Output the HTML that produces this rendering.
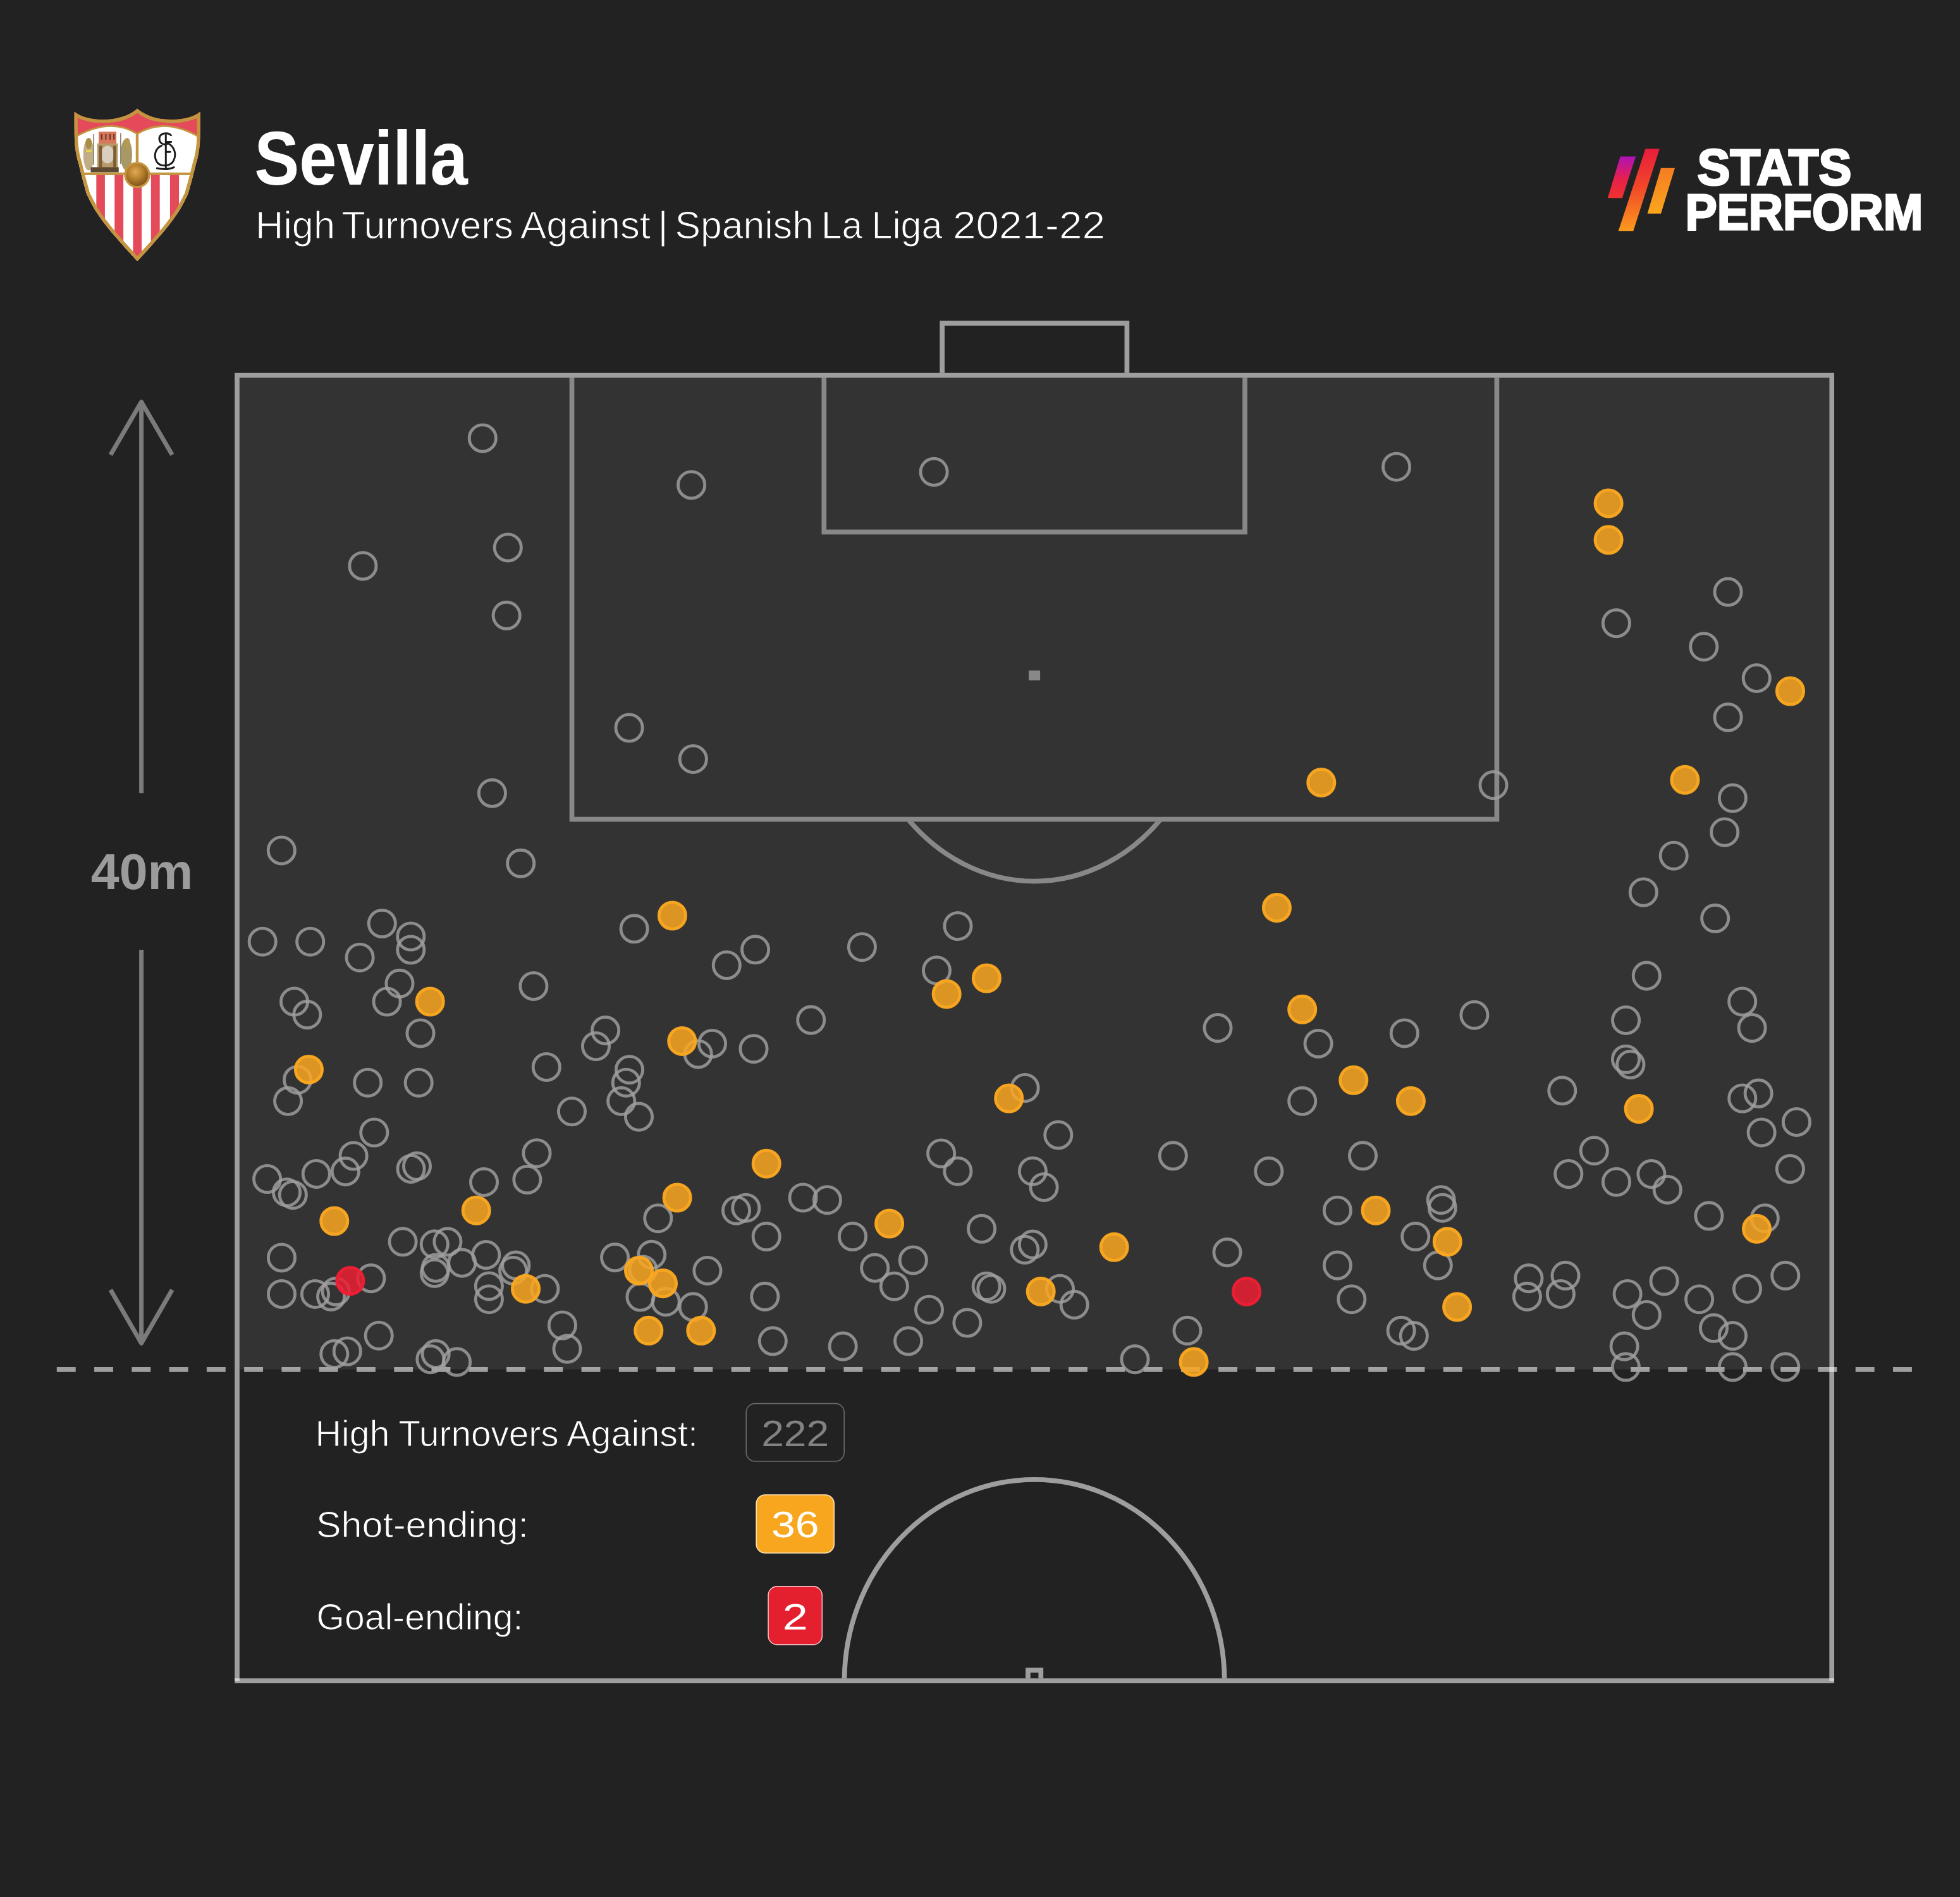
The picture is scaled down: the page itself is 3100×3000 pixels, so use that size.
<!DOCTYPE html>
<html lang="en"><head><meta charset="utf-8"><title>Sevilla - High Turnovers Against</title>
<style>html,body{margin:0;padding:0;background:#222222;}body{width:3100px;height:3000px;overflow:hidden;}svg{display:block;}text{font-family:"Liberation Sans",sans-serif;}</style></head><body>
<svg width="3100" height="3000" viewBox="0 0 3100 3000">
<rect width="3100" height="3000" fill="#222222"/>
<g fill="none" stroke="rgba(255,255,255,0.56)" stroke-width="7.7" stroke-linecap="butt" stroke-linejoin="miter">
<path d="M375.0 2658.2 L375.0 593.7 L2897.2 593.7 L2897.2 2658.2"/>
<path d="M371.15 2658.2 L2901.0499999999997 2658.2"/>
<path d="M1490.2 589.85 L1490.2 511.2 L1782.4 511.2 L1782.4 589.85"/>
<path d="M904.5 597.5500000000001 L904.5 1295.6 L2367.4 1295.6 L2367.4 597.5500000000001"/>
<path d="M1303.3 597.5500000000001 L1303.3 841.4 L1969.0 841.4 L1969.0 597.5500000000001"/>
<clipPath id="cpD"><rect x="1300" y="1299.4499999999998" width="700" height="200"/></clipPath>
<path clip-path="url(#cpD)" d="M1433.1 1291.8 A279.4 325.4 0 0 0 1839.1 1291.8"/>
<clipPath id="cpC"><rect x="1200" y="2300" width="900" height="354.3499999999999"/></clipPath>
<path clip-path="url(#cpC)" d="M1335.5 2662.2 L1335.5 2658.2 A300.6 318.5 0 0 1 1936.6999999999998 2658.2 L1936.6999999999998 2662.2"/>
<path d="M1625.8999999999999 2654.35 L1625.8999999999999 2641.4 L1646.3 2641.4 L1646.3 2654.35"/>
</g>
<rect x="1627.1" y="1060.4" width="18" height="15.6" fill="rgba(255,255,255,0.56)"/>
<rect x="378.85" y="597.5500000000001" width="2514.5" height="1568.05" fill="rgb(88,88,88)" fill-opacity="0.317"/>
<path d="M89.8 2165.9 L3024.6 2165.9" stroke="rgba(255,255,255,0.56)" stroke-width="7.9" stroke-dasharray="29.9 29.37" fill="none"/>
<g fill="none" stroke="#7b7b7b" stroke-width="7" stroke-linecap="butt" stroke-linejoin="miter">
<path d="M223.6 1254.3 L223.6 635.6"/>
<path d="M174.9 719.2 L223.6 635.6 L272.3 719.2" stroke-linejoin="round"/>
<path d="M223.6 1502 L223.6 2124.2"/>
<path d="M174.9 2039.8 L223.6 2124.2 L272.3 2039.8" stroke-linejoin="round"/>
</g>
<text id="t40" x="143.8" y="1406.3" font-size="80" font-weight="700" fill="#9b9b9b" textLength="161.5" lengthAdjust="spacingAndGlyphs">40m</text>
<g fill="none" stroke="rgba(160,160,160,0.82)" stroke-width="4.85">
<circle cx="763.3" cy="692.9" r="21.1"/>
<circle cx="803.3" cy="865.9" r="21.1"/>
<circle cx="573.9" cy="894.9" r="21.1"/>
<circle cx="801.2" cy="973.3" r="21.1"/>
<circle cx="1093.6" cy="766.9" r="21.1"/>
<circle cx="1477.1" cy="746.3" r="21.1"/>
<circle cx="2208.6" cy="738.2" r="21.1"/>
<circle cx="2556.4" cy="985.6" r="21.1"/>
<circle cx="2694.8" cy="1022.7" r="21.1"/>
<circle cx="2733.1" cy="936.1" r="21.1"/>
<circle cx="2778.3" cy="1072.4" r="21.1"/>
<circle cx="2733.1" cy="1134.4" r="21.1"/>
<circle cx="2740.4" cy="1262.2" r="21.1"/>
<circle cx="2727.7" cy="1316.0" r="21.1"/>
<circle cx="2647.2" cy="1353.2" r="21.1"/>
<circle cx="2599.3" cy="1411.0" r="21.1"/>
<circle cx="2712.7" cy="1452.3" r="21.1"/>
<circle cx="2604.3" cy="1543.1" r="21.1"/>
<circle cx="2755.7" cy="1584.0" r="21.1"/>
<circle cx="2571.6" cy="1613.4" r="21.1"/>
<circle cx="995.1" cy="1151.0" r="21.1"/>
<circle cx="1096.3" cy="1200.4" r="21.1"/>
<circle cx="778.4" cy="1254.3" r="21.1"/>
<circle cx="445.3" cy="1344.9" r="21.1"/>
<circle cx="823.7" cy="1365.3" r="21.1"/>
<circle cx="1003.1" cy="1468.8" r="21.1"/>
<circle cx="604.3" cy="1460.5" r="21.1"/>
<circle cx="649.8" cy="1481.0" r="21.1"/>
<circle cx="649.8" cy="1502.0" r="21.1"/>
<circle cx="415.2" cy="1489.2" r="21.1"/>
<circle cx="490.7" cy="1489.2" r="21.1"/>
<circle cx="569.1" cy="1514.2" r="21.1"/>
<circle cx="632.0" cy="1555.3" r="21.1"/>
<circle cx="843.9" cy="1559.4" r="21.1"/>
<circle cx="612.1" cy="1584.0" r="21.1"/>
<circle cx="465.5" cy="1584.0" r="21.1"/>
<circle cx="485.8" cy="1604.6" r="21.1"/>
<circle cx="1515.0" cy="1464.5" r="21.1"/>
<circle cx="1363.4" cy="1497.7" r="21.1"/>
<circle cx="1194.6" cy="1501.8" r="21.1"/>
<circle cx="1149.3" cy="1526.4" r="21.1"/>
<circle cx="1481.5" cy="1534.7" r="21.1"/>
<circle cx="1282.7" cy="1613.1" r="21.1"/>
<circle cx="2362.0" cy="1241.6" r="21.1"/>
<circle cx="2331.9" cy="1605.2" r="21.1"/>
<circle cx="665.0" cy="1633.9" r="21.1"/>
<circle cx="957.6" cy="1629.6" r="21.1"/>
<circle cx="942.5" cy="1654.5" r="21.1"/>
<circle cx="470.6" cy="1707.7" r="21.1"/>
<circle cx="455.6" cy="1741.3" r="21.1"/>
<circle cx="581.7" cy="1712.2" r="21.1"/>
<circle cx="662.2" cy="1712.2" r="21.1"/>
<circle cx="864.3" cy="1687.4" r="21.1"/>
<circle cx="904.5" cy="1757.7" r="21.1"/>
<circle cx="591.8" cy="1791.0" r="21.1"/>
<circle cx="559.1" cy="1828.0" r="21.1"/>
<circle cx="849.0" cy="1823.7" r="21.1"/>
<circle cx="659.5" cy="1844.2" r="21.1"/>
<circle cx="650.0" cy="1848.4" r="21.1"/>
<circle cx="546.4" cy="1852.6" r="21.1"/>
<circle cx="500.3" cy="1856.4" r="21.1"/>
<circle cx="422.6" cy="1864.5" r="21.1"/>
<circle cx="765.5" cy="1869.4" r="21.1"/>
<circle cx="833.9" cy="1865.5" r="21.1"/>
<circle cx="453.5" cy="1885.7" r="21.1"/>
<circle cx="463.3" cy="1889.7" r="21.1"/>
<circle cx="637.1" cy="1963.8" r="21.1"/>
<circle cx="687.3" cy="1967.8" r="21.1"/>
<circle cx="707.9" cy="1963.8" r="21.1"/>
<circle cx="768.8" cy="1984.6" r="21.1"/>
<circle cx="445.5" cy="1988.9" r="21.1"/>
<circle cx="730.8" cy="1997.1" r="21.1"/>
<circle cx="689.2" cy="2005.1" r="21.1"/>
<circle cx="687.3" cy="2013.4" r="21.1"/>
<circle cx="815.9" cy="2001.1" r="21.1"/>
<circle cx="811.6" cy="2009.4" r="21.1"/>
<circle cx="586.9" cy="2021.6" r="21.1"/>
<circle cx="773.4" cy="2033.9" r="21.1"/>
<circle cx="861.8" cy="2038.2" r="21.1"/>
<circle cx="445.5" cy="2046.4" r="21.1"/>
<circle cx="498.5" cy="2046.4" r="21.1"/>
<circle cx="531.2" cy="2042.4" r="21.1"/>
<circle cx="523.6" cy="2050.4" r="21.1"/>
<circle cx="773.4" cy="2054.7" r="21.1"/>
<circle cx="889.4" cy="2096.0" r="21.1"/>
<circle cx="599.2" cy="2112.2" r="21.1"/>
<circle cx="897.0" cy="2133.1" r="21.1"/>
<circle cx="528.8" cy="2141.3" r="21.1"/>
<circle cx="549.3" cy="2137.0" r="21.1"/>
<circle cx="689.2" cy="2141.3" r="21.1"/>
<circle cx="680.9" cy="2149.6" r="21.1"/>
<circle cx="722.6" cy="2153.9" r="21.1"/>
<circle cx="1126.5" cy="1650.4" r="21.1"/>
<circle cx="1104.2" cy="1666.9" r="21.1"/>
<circle cx="1192.0" cy="1658.7" r="21.1"/>
<circle cx="995.5" cy="1691.7" r="21.1"/>
<circle cx="990.3" cy="1712.2" r="21.1"/>
<circle cx="982.7" cy="1741.3" r="21.1"/>
<circle cx="1010.5" cy="1766.1" r="21.1"/>
<circle cx="1488.6" cy="1824.0" r="21.1"/>
<circle cx="1514.9" cy="1852.2" r="21.1"/>
<circle cx="1040.8" cy="1926.7" r="21.1"/>
<circle cx="1164.5" cy="1914.2" r="21.1"/>
<circle cx="1179.8" cy="1910.2" r="21.1"/>
<circle cx="1270.1" cy="1894.0" r="21.1"/>
<circle cx="1308.4" cy="1897.7" r="21.1"/>
<circle cx="1212.2" cy="1955.5" r="21.1"/>
<circle cx="1348.5" cy="1955.5" r="21.1"/>
<circle cx="972.6" cy="1988.6" r="21.1"/>
<circle cx="1030.7" cy="1984.3" r="21.1"/>
<circle cx="1444.3" cy="1992.9" r="21.1"/>
<circle cx="1017.0" cy="2008.0" r="21.1"/>
<circle cx="1118.9" cy="2009.4" r="21.1"/>
<circle cx="1383.7" cy="2005.1" r="21.1"/>
<circle cx="1414.3" cy="2034.2" r="21.1"/>
<circle cx="1013.0" cy="2051.0" r="21.1"/>
<circle cx="1053.1" cy="2058.7" r="21.1"/>
<circle cx="1096.2" cy="2066.9" r="21.1"/>
<circle cx="1209.8" cy="2050.4" r="21.1"/>
<circle cx="1469.5" cy="2071.2" r="21.1"/>
<circle cx="1222.3" cy="2120.8" r="21.1"/>
<circle cx="1333.2" cy="2129.1" r="21.1"/>
<circle cx="1436.6" cy="2120.8" r="21.1"/>
<circle cx="1926.0" cy="1625.6" r="21.1"/>
<circle cx="1621.1" cy="1720.5" r="21.1"/>
<circle cx="1673.8" cy="1794.9" r="21.1"/>
<circle cx="1633.4" cy="1852.2" r="21.1"/>
<circle cx="1855.3" cy="1827.8" r="21.1"/>
<circle cx="2006.8" cy="1852.3" r="21.1"/>
<circle cx="2059.7" cy="1741.3" r="21.1"/>
<circle cx="1651.1" cy="1877.4" r="21.1"/>
<circle cx="1552.6" cy="1943.3" r="21.1"/>
<circle cx="1633.4" cy="1968.1" r="21.1"/>
<circle cx="1620.8" cy="1976.3" r="21.1"/>
<circle cx="1941.0" cy="1980.6" r="21.1"/>
<circle cx="1560.2" cy="2034.2" r="21.1"/>
<circle cx="1567.9" cy="2038.2" r="21.1"/>
<circle cx="1676.5" cy="2038.2" r="21.1"/>
<circle cx="1699.2" cy="2063.3" r="21.1"/>
<circle cx="1529.9" cy="2092.0" r="21.1"/>
<circle cx="1878.0" cy="2104.3" r="21.1"/>
<circle cx="1795.0" cy="2149.6" r="21.1"/>
<circle cx="2221.3" cy="1633.9" r="21.1"/>
<circle cx="2085.1" cy="1650.4" r="21.1"/>
<circle cx="2571.5" cy="1675.2" r="21.1"/>
<circle cx="2578.9" cy="1683.5" r="21.1"/>
<circle cx="2470.8" cy="1724.8" r="21.1"/>
<circle cx="2521.3" cy="1819.7" r="21.1"/>
<circle cx="2155.5" cy="1827.8" r="21.1"/>
<circle cx="2480.8" cy="1856.6" r="21.1"/>
<circle cx="2556.5" cy="1869.2" r="21.1"/>
<circle cx="2611.9" cy="1856.6" r="21.1"/>
<circle cx="2115.4" cy="1914.2" r="21.1"/>
<circle cx="2279.2" cy="1897.7" r="21.1"/>
<circle cx="2281.3" cy="1910.2" r="21.1"/>
<circle cx="2238.8" cy="1955.5" r="21.1"/>
<circle cx="2115.4" cy="2001.1" r="21.1"/>
<circle cx="2274.3" cy="2001.1" r="21.1"/>
<circle cx="2417.9" cy="2021.6" r="21.1"/>
<circle cx="2476.0" cy="2017.3" r="21.1"/>
<circle cx="2415.4" cy="2050.4" r="21.1"/>
<circle cx="2468.4" cy="2046.4" r="21.1"/>
<circle cx="2574.1" cy="2046.4" r="21.1"/>
<circle cx="2604.3" cy="2079.5" r="21.1"/>
<circle cx="2137.8" cy="2054.7" r="21.1"/>
<circle cx="2216.1" cy="2104.3" r="21.1"/>
<circle cx="2236.3" cy="2112.6" r="21.1"/>
<circle cx="2569.1" cy="2129.1" r="21.1"/>
<circle cx="2571.4" cy="2161.8" r="21.1"/>
<circle cx="2771.1" cy="1625.6" r="21.1"/>
<circle cx="2781.2" cy="1729.1" r="21.1"/>
<circle cx="2755.8" cy="1737.0" r="21.1"/>
<circle cx="2841.5" cy="1774.4" r="21.1"/>
<circle cx="2786.1" cy="1790.9" r="21.1"/>
<circle cx="2831.4" cy="1848.6" r="21.1"/>
<circle cx="2637.3" cy="1881.4" r="21.1"/>
<circle cx="2702.9" cy="1922.8" r="21.1"/>
<circle cx="2791.3" cy="1926.7" r="21.1"/>
<circle cx="2632.1" cy="2025.9" r="21.1"/>
<circle cx="2823.8" cy="2017.3" r="21.1"/>
<circle cx="2763.5" cy="2038.2" r="21.1"/>
<circle cx="2687.6" cy="2054.7" r="21.1"/>
<circle cx="2710.5" cy="2100.3" r="21.1"/>
<circle cx="2740.5" cy="2112.6" r="21.1"/>
<circle cx="2740.5" cy="2161.8" r="21.1"/>
<circle cx="2823.8" cy="2161.8" r="21.1"/>
</g>
<g fill="rgba(250,167,32,0.85)" stroke="rgba(250,167,32,0.97)" stroke-width="4.85">
<circle cx="2544.1" cy="795.9" r="21.1"/>
<circle cx="2544.1" cy="853.8" r="21.1"/>
<circle cx="2831.5" cy="1093.0" r="21.1"/>
<circle cx="2664.9" cy="1233.3" r="21.1"/>
<circle cx="2089.8" cy="1237.6" r="21.1"/>
<circle cx="1063.4" cy="1448.0" r="21.1"/>
<circle cx="680.2" cy="1584.0" r="21.1"/>
<circle cx="1560.4" cy="1547.0" r="21.1"/>
<circle cx="1497.2" cy="1571.9" r="21.1"/>
<circle cx="2019.4" cy="1435.6" r="21.1"/>
<circle cx="2059.7" cy="1596.3" r="21.1"/>
<circle cx="488.4" cy="1691.4" r="21.1"/>
<circle cx="1078.8" cy="1646.4" r="21.1"/>
<circle cx="1212.2" cy="1840.2" r="21.1"/>
<circle cx="753.2" cy="1914.2" r="21.1"/>
<circle cx="528.8" cy="1931.0" r="21.1"/>
<circle cx="831.5" cy="2038.2" r="21.1"/>
<circle cx="1071.1" cy="1894.0" r="21.1"/>
<circle cx="1406.6" cy="1935.0" r="21.1"/>
<circle cx="1010.5" cy="2009.4" r="21.1"/>
<circle cx="1048.5" cy="2029.6" r="21.1"/>
<circle cx="1025.8" cy="2104.3" r="21.1"/>
<circle cx="1108.8" cy="2104.3" r="21.1"/>
<circle cx="1595.7" cy="1737.0" r="21.1"/>
<circle cx="1762.2" cy="1972.3" r="21.1"/>
<circle cx="1646.2" cy="2042.4" r="21.1"/>
<circle cx="1888.1" cy="2153.9" r="21.1"/>
<circle cx="2140.8" cy="1708.3" r="21.1"/>
<circle cx="2231.4" cy="1741.3" r="21.1"/>
<circle cx="2592.1" cy="1753.6" r="21.1"/>
<circle cx="2176.0" cy="1914.2" r="21.1"/>
<circle cx="2289.3" cy="1963.8" r="21.1"/>
<circle cx="2304.6" cy="2066.9" r="21.1"/>
<circle cx="2778.5" cy="1943.3" r="21.1"/>
</g>
<g fill="rgba(235,30,50,0.85)" stroke="rgba(238,30,52,0.97)" stroke-width="4.85">
<circle cx="553.9" cy="2025.6" r="21.1"/>
<circle cx="1971.6" cy="2042.4" r="21.1"/>
</g>
<g font-size="58" fill="#ffffff" stroke="#222222" stroke-width="1.0" lengthAdjust="spacingAndGlyphs">
<text id="lga0" x="498.5" y="2286.6" textLength="118.0" lengthAdjust="spacingAndGlyphs">High</text>
<text id="lga1" x="630.5" y="2286.6" textLength="253.0" lengthAdjust="spacingAndGlyphs">Turnovers</text>
<text id="lga2" x="896" y="2286.6" textLength="208.0" lengthAdjust="spacingAndGlyphs">Against:</text>
<text id="lgb0" x="500" y="2431" textLength="336.0" lengthAdjust="spacingAndGlyphs">Shot-ending:</text>
<text id="lgc0" x="500.5" y="2576.5" textLength="327.0" lengthAdjust="spacingAndGlyphs">Goal-ending:</text>
</g>
<rect x="1180.2" y="2219.6" width="155" height="91.4" rx="14" fill="none" stroke="#6a6a6a" stroke-width="1.6"/>
<rect x="1196.2" y="2364" width="123" height="92" rx="14" fill="#f9a61f" stroke="#fde2b4" stroke-width="1.6"/>
<rect x="1215.1" y="2508.9" width="85.2" height="92" rx="14" fill="#e4202f" stroke="#f6b9bf" stroke-width="1.6"/>
<g font-size="58" text-anchor="middle">
<text id="n1" x="1257.7" y="2286.6" fill="#828282" textLength="107" lengthAdjust="spacingAndGlyphs">222</text>
<text id="n2" x="1257.7" y="2431" fill="#ffffff" textLength="75.5" lengthAdjust="spacingAndGlyphs">36</text>
<text id="n3" x="1257.7" y="2576.5" fill="#ffffff" textLength="40" lengthAdjust="spacingAndGlyphs">2</text>
</g>
<text id="ttl" x="402.2" y="292" font-size="120" font-weight="700" fill="#ffffff" textLength="337.5" lengthAdjust="spacingAndGlyphs">Sevilla</text>
<g font-size="62" fill="#ffffff" stroke="#222222" stroke-width="1.1">
<text id="sub0" x="404" y="377" textLength="126.0" lengthAdjust="spacingAndGlyphs">High</text>
<text id="sub1" x="540.5" y="377" textLength="271.5" lengthAdjust="spacingAndGlyphs">Turnovers</text>
<text id="sub2" x="823" y="377" textLength="206.0" lengthAdjust="spacingAndGlyphs">Against</text>
<text id="sub3" x="1040.5" y="377" textLength="16.1" lengthAdjust="spacingAndGlyphs">|</text>
<text id="sub4" x="1067.5" y="377" textLength="219.5" lengthAdjust="spacingAndGlyphs">Spanish</text>
<text id="sub5" x="1299" y="377" textLength="65.0" lengthAdjust="spacingAndGlyphs">La</text>
<text id="sub6" x="1378.5" y="377" textLength="112.0" lengthAdjust="spacingAndGlyphs">Liga</text>
<text id="sub7" x="1507" y="377" textLength="241.0" lengthAdjust="spacingAndGlyphs">2021-22</text>
</g>
<defs>
<linearGradient id="g1" x1="0" y1="0" x2="0" y2="1"><stop offset="0" stop-color="#b012b8"/><stop offset="0.55" stop-color="#e8204a"/><stop offset="1" stop-color="#f0312f"/></linearGradient>
<linearGradient id="g2" x1="0" y1="0" x2="0" y2="1"><stop offset="0" stop-color="#e81c3c"/><stop offset="0.45" stop-color="#f2452a"/><stop offset="1" stop-color="#fb9a1c"/></linearGradient>
<linearGradient id="g3" x1="0" y1="0" x2="0" y2="1"><stop offset="0" stop-color="#f57d22"/><stop offset="1" stop-color="#fba61c"/></linearGradient>
</defs>
<polygon points="2562.7,247.4 2587.2,247.4 2565.8,313.2 2542.8,313.2" fill="url(#g1)"/>
<polygon points="2602.5,235.2 2624.9,235.2 2583.3,365.3 2559.7,365.3" fill="url(#g2)"/>
<polygon points="2627,265.8 2649,265.8 2627,337.7 2605.6,337.7" fill="url(#g3)"/>
<text id="sp1" x="2684.5" y="292.2" font-size="79.5" font-weight="700" fill="#ffffff" stroke="#ffffff" stroke-width="3" stroke-linejoin="miter" textLength="244" lengthAdjust="spacingAndGlyphs">STATS</text>
<text id="sp2" x="2665.5" y="363.2" font-size="80.5" font-weight="700" fill="#ffffff" stroke="#ffffff" stroke-width="3" stroke-linejoin="miter" textLength="376" lengthAdjust="spacingAndGlyphs">PERFORM</text>
<g>
<clipPath id="csh"><path d="M117.6,176.5 C135,192.5 190,196 217.2,171.8 C244.4,196 299.4,192.5 316.8,176.5 C316.8,181.2 316.9,196.4 316.8,205.0 C316.7,213.6 316.4,222.2 316.0,228.0 C315.6,233.8 315.1,236.3 314.5,240.0 C313.9,243.7 313.3,246.7 312.5,250.0 C311.7,253.3 311.0,254.9 309.7,260.0 C308.4,265.1 306.3,273.9 304.5,280.8 C302.7,287.7 300.3,296.3 298.9,301.2 C297.4,306.1 298.6,304.4 295.8,310.0 C293.0,315.6 287.5,326.7 282.2,335.0 C276.9,343.3 270.1,352.1 263.9,360.0 C257.7,367.9 250.6,375.7 244.8,382.4 C239.0,389.1 233.6,394.9 229.0,400.0 C224.4,405.1 219.2,410.9 217.2,413.1 C215.2,410.9 210.0,405.1 205.4,400.0 C200.8,394.9 195.4,389.1 189.6,382.4 C183.8,375.7 176.7,367.9 170.5,360.0 C164.3,352.1 157.5,343.3 152.2,335.0 C146.9,326.7 141.4,315.6 138.6,310.0 C135.8,304.4 136.9,306.1 135.5,301.2 C134.1,296.3 131.7,287.7 129.9,280.8 C128.1,273.9 126.0,265.1 124.7,260.0 C123.4,254.9 122.7,253.3 121.9,250.0 C121.1,246.7 120.5,243.7 119.9,240.0 C119.3,236.3 118.8,233.8 118.4,228.0 C118.0,222.2 117.7,213.6 117.6,205.0 C117.5,196.4 117.6,181.2 117.6,176.5 Z"/></clipPath>
<g clip-path="url(#csh)">
<g transform="translate(80,150) scale(0.14760)">
<defs>
<radialGradient id="ball" cx="0.42" cy="0.36" r="0.7"><stop offset="0" stop-color="#e0ab55"/><stop offset="0.45" stop-color="#b8822f"/><stop offset="1" stop-color="#7a4d17"/></radialGradient>
</defs>
<g>
<rect x="200" y="100" width="1500" height="1750" fill="#e44a5a"/>
<rect x="200" y="845" width="1500" height="1000" fill="#ffffff"/>
<rect x="490" y="845" width="92" height="1000" fill="#e44a5a"/>
<rect x="686" y="845" width="94" height="1000" fill="#e44a5a"/>
<rect x="884" y="845" width="92" height="1000" fill="#e44a5a"/>
<rect x="1076" y="845" width="94" height="1000" fill="#e44a5a"/>
<rect x="1280" y="845" width="96" height="1000" fill="#e44a5a"/>
<path d="M262,452 Q636,236 928,417 L928,845 L300,845 Z" fill="#ffffff" stroke="#c4953f" stroke-width="20"/>
<path d="M928,417 Q1220,236 1594,452 L1560,845 L928,845 Z" fill="#ffffff" stroke="#c4953f" stroke-width="20"/>
<g>
<rect x="515" y="395" width="190" height="135" fill="#d9765a"/>
<rect x="540" y="420" width="14" height="60" fill="#5b3a28"/>
<rect x="585" y="420" width="14" height="60" fill="#5b3a28"/>
<rect x="630" y="420" width="14" height="60" fill="#5b3a28"/>
<rect x="672" y="420" width="14" height="60" fill="#5b3a28"/>
<rect x="500" y="520" width="220" height="270" fill="#b79a68"/>
<ellipse cx="610" cy="640" rx="70" ry="95" fill="#d8cfc0"/>
<rect x="520" y="545" width="30" height="230" fill="#7c5a34"/>
<rect x="672" y="545" width="30" height="230" fill="#7c5a34"/>
<ellipse cx="408" cy="640" rx="58" ry="170" fill="#c2ae86"/>
<ellipse cx="408" cy="520" rx="34" ry="60" fill="#a98d45"/>
<rect x="380" y="590" width="60" height="22" fill="#e8d64a"/>
<ellipse cx="812" cy="640" rx="62" ry="170" fill="#a89868"/>
<ellipse cx="820" cy="520" rx="34" ry="60" fill="#b39a55"/>
<rect x="455" y="420" width="12" height="330" fill="#8a8a6a"/>
<rect x="745" y="410" width="12" height="330" fill="#8a8a6a"/>
<rect x="430" y="775" width="300" height="55" fill="#5e4a33"/>
</g>
<rect x="200" y="832" width="1500" height="28" fill="#c4953f"/>
<rect x="913" y="410" width="30" height="450" fill="#c4953f"/>
</g>
<g fill="none" stroke="#1c1c1c" stroke-width="20" stroke-linecap="round">
<path d="M1290,432 C1250,395 1165,410 1165,470 C1165,520 1215,545 1262,520"/>
<path d="M1235,430 L1235,790"/>
<path d="M1235,505 L1292,505"/>
<path d="M1235,612 L1282,612"/>
<path d="M1262,520 C1330,560 1350,640 1320,700 C1290,770 1180,775 1140,720 C1100,660 1120,570 1190,545"/>
<path d="M1140,786 C1200,800 1270,800 1322,776"/>
</g>
<circle cx="928" cy="858" r="140" fill="#c4953f"/>
<circle cx="928" cy="858" r="118" fill="url(#ball)"/>
</g>
<path d="M117.6,176.5 C135,192.5 190,196 217.2,171.8 C244.4,196 299.4,192.5 316.8,176.5 C316.8,181.2 316.9,196.4 316.8,205.0 C316.7,213.6 316.4,222.2 316.0,228.0 C315.6,233.8 315.1,236.3 314.5,240.0 C313.9,243.7 313.3,246.7 312.5,250.0 C311.7,253.3 311.0,254.9 309.7,260.0 C308.4,265.1 306.3,273.9 304.5,280.8 C302.7,287.7 300.3,296.3 298.9,301.2 C297.4,306.1 298.6,304.4 295.8,310.0 C293.0,315.6 287.5,326.7 282.2,335.0 C276.9,343.3 270.1,352.1 263.9,360.0 C257.7,367.9 250.6,375.7 244.8,382.4 C239.0,389.1 233.6,394.9 229.0,400.0 C224.4,405.1 219.2,410.9 217.2,413.1 C215.2,410.9 210.0,405.1 205.4,400.0 C200.8,394.9 195.4,389.1 189.6,382.4 C183.8,375.7 176.7,367.9 170.5,360.0 C164.3,352.1 157.5,343.3 152.2,335.0 C146.9,326.7 141.4,315.6 138.6,310.0 C135.8,304.4 136.9,306.1 135.5,301.2 C134.1,296.3 131.7,287.7 129.9,280.8 C128.1,273.9 126.0,265.1 124.7,260.0 C123.4,254.9 122.7,253.3 121.9,250.0 C121.1,246.7 120.5,243.7 119.9,240.0 C119.3,236.3 118.8,233.8 118.4,228.0 C118.0,222.2 117.7,213.6 117.6,205.0 C117.5,196.4 117.6,181.2 117.6,176.5 Z" fill="none" stroke="#c4953f" stroke-width="10.6" stroke-linejoin="miter"/>
</g>
</g>
</svg></body></html>
